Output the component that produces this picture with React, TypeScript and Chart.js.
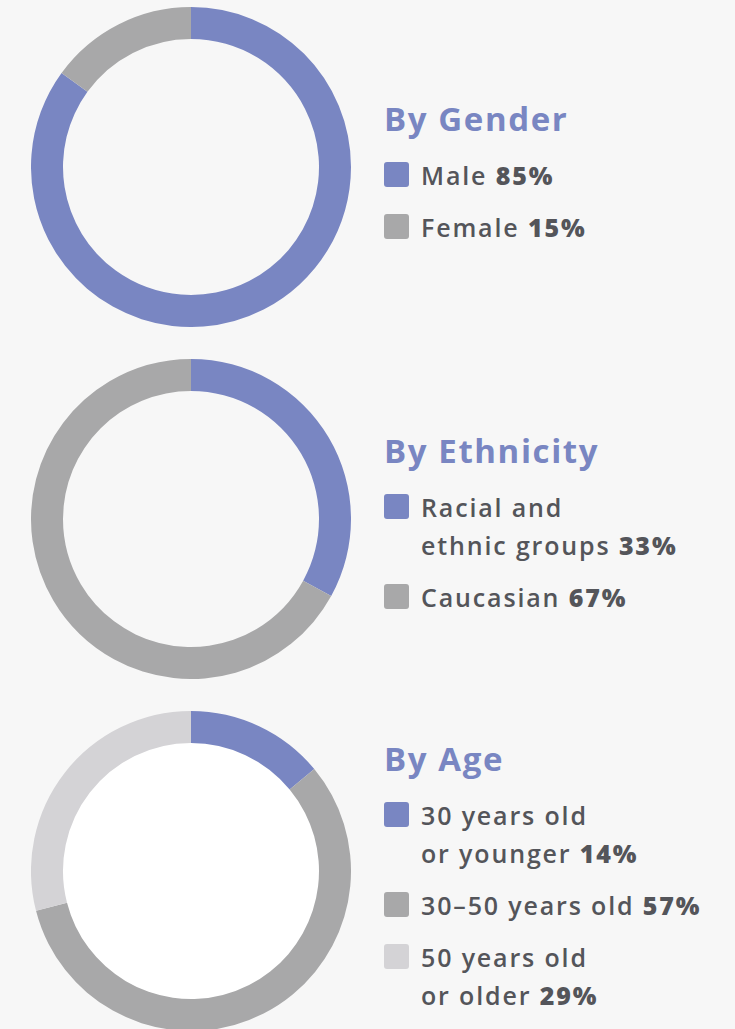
import React, { useEffect, useRef } from "react";
import { Chart, registerables } from "chart.js";

Chart.register(...registerables);

const genderLabels = ["Male", "Female"];
const genderValues = [85, 15];
const ethnicityLabels = ["Racial and\nethnic groups", "Caucasian"];
const ethnicityValues = [33, 67];
const ageLabels = ["30 years old\nor younger", "30–50 years old", "50 years old\nor older"];
const ageValues = [14, 57, 29];

const BLUE = "#7986c2";
const GREY = "#a8a8a9";
const LIGHT = "#d4d3d6";
const BG = "#f7f7f7";
const TEXT = "#54555a";
const FONT = "'Open Sans', Lato, sans-serif";

const innerFill = {
  id: "innerFill",
  beforeDatasetsDraw(chart: any, _args: any, opts: any) {
    if (!opts || !opts.color) return;
    const meta = chart.getDatasetMeta(0);
    const arc = meta.data[0];
    if (!arc) return;
    const { x, y, innerRadius } = arc.getProps(["x", "y", "innerRadius"], true);
    const ctx = chart.ctx;
    ctx.save();
    ctx.fillStyle = opts.color;
    ctx.beginPath();
    ctx.arc(x, y, innerRadius + 1, 0, Math.PI * 2);
    ctx.fill();
    ctx.restore();
  },
};

function Donut({ labels, values, colors, inner, top }: any) {
  const ref = useRef<HTMLCanvasElement>(null);
  useEffect(() => {
    const chart = new Chart(ref.current!, {
      type: "doughnut",
      data: {
        labels,
        datasets: [{ data: values, backgroundColor: colors, borderWidth: 0, hoverOffset: 0 }],
      },
      options: {
        animation: false,
        responsive: false,
        cutout: "80%",
        layout: { padding: 0 },
        plugins: {
          legend: { display: false },
          tooltip: { enabled: false },
          innerFill: { color: inner },
        } as any,
      },
      plugins: [innerFill],
    });
    return () => chart.destroy();
  }, []);
  return (
    <canvas
      ref={ref}
      width={320}
      height={320}
      style={{ position: "absolute", left: 31, top, width: 320, height: 320 }}
    />
  );
}

function Legend({ title, labels, values, colors, top }: any) {
  return (
    <div style={{ position: "absolute", left: 384, top, fontFamily: FONT, color: TEXT }}>
      <div
        style={{
          fontSize: 33,
          lineHeight: "40px",
          fontWeight: 700,
          color: BLUE,
          marginBottom: 17,
          letterSpacing: 1.6,
          whiteSpace: "nowrap",
        }}
      >
        {title}
      </div>
      {labels.map((l: string, i: number) => (
        <div key={i} style={{ display: "flex", alignItems: "flex-start", marginBottom: 14 }}>
          <div
            style={{
              width: 25,
              height: 25,
              borderRadius: 3,
              background: colors[i],
              marginTop: 6,
              marginRight: 12,
              flex: "none",
            }}
          />
          <div
            style={{
              fontSize: 25,
              lineHeight: "38px",
              fontWeight: 600,
              whiteSpace: "pre",
              letterSpacing: 1.85,
            }}
          >
            {l} <span style={{ fontWeight: 800 }}>{values[i]}%</span>
          </div>
        </div>
      ))}
    </div>
  );
}

export default function App() {
  useEffect(() => {
    document.body.style.margin = "0";
    document.body.style.background = BG;
  }, []);
  return (
    <div style={{ position: "relative", width: 735, height: 1029, background: BG, overflow: "hidden" }}>
      <Donut labels={genderLabels} values={genderValues} colors={[BLUE, GREY]} inner={null} top={7} />
      <Donut labels={ethnicityLabels} values={ethnicityValues} colors={[BLUE, GREY]} inner={null} top={359} />
      <Donut labels={ageLabels} values={ageValues} colors={[BLUE, GREY, LIGHT]} inner="#ffffff" top={711} />
      <Legend title="By Gender" labels={genderLabels} values={genderValues} colors={[BLUE, GREY]} top={99} />
      <Legend title="By Ethnicity" labels={ethnicityLabels} values={ethnicityValues} colors={[BLUE, GREY]} top={431} />
      <Legend title="By Age" labels={ageLabels} values={ageValues} colors={[BLUE, GREY, LIGHT]} top={739} />
    </div>
  );
}
